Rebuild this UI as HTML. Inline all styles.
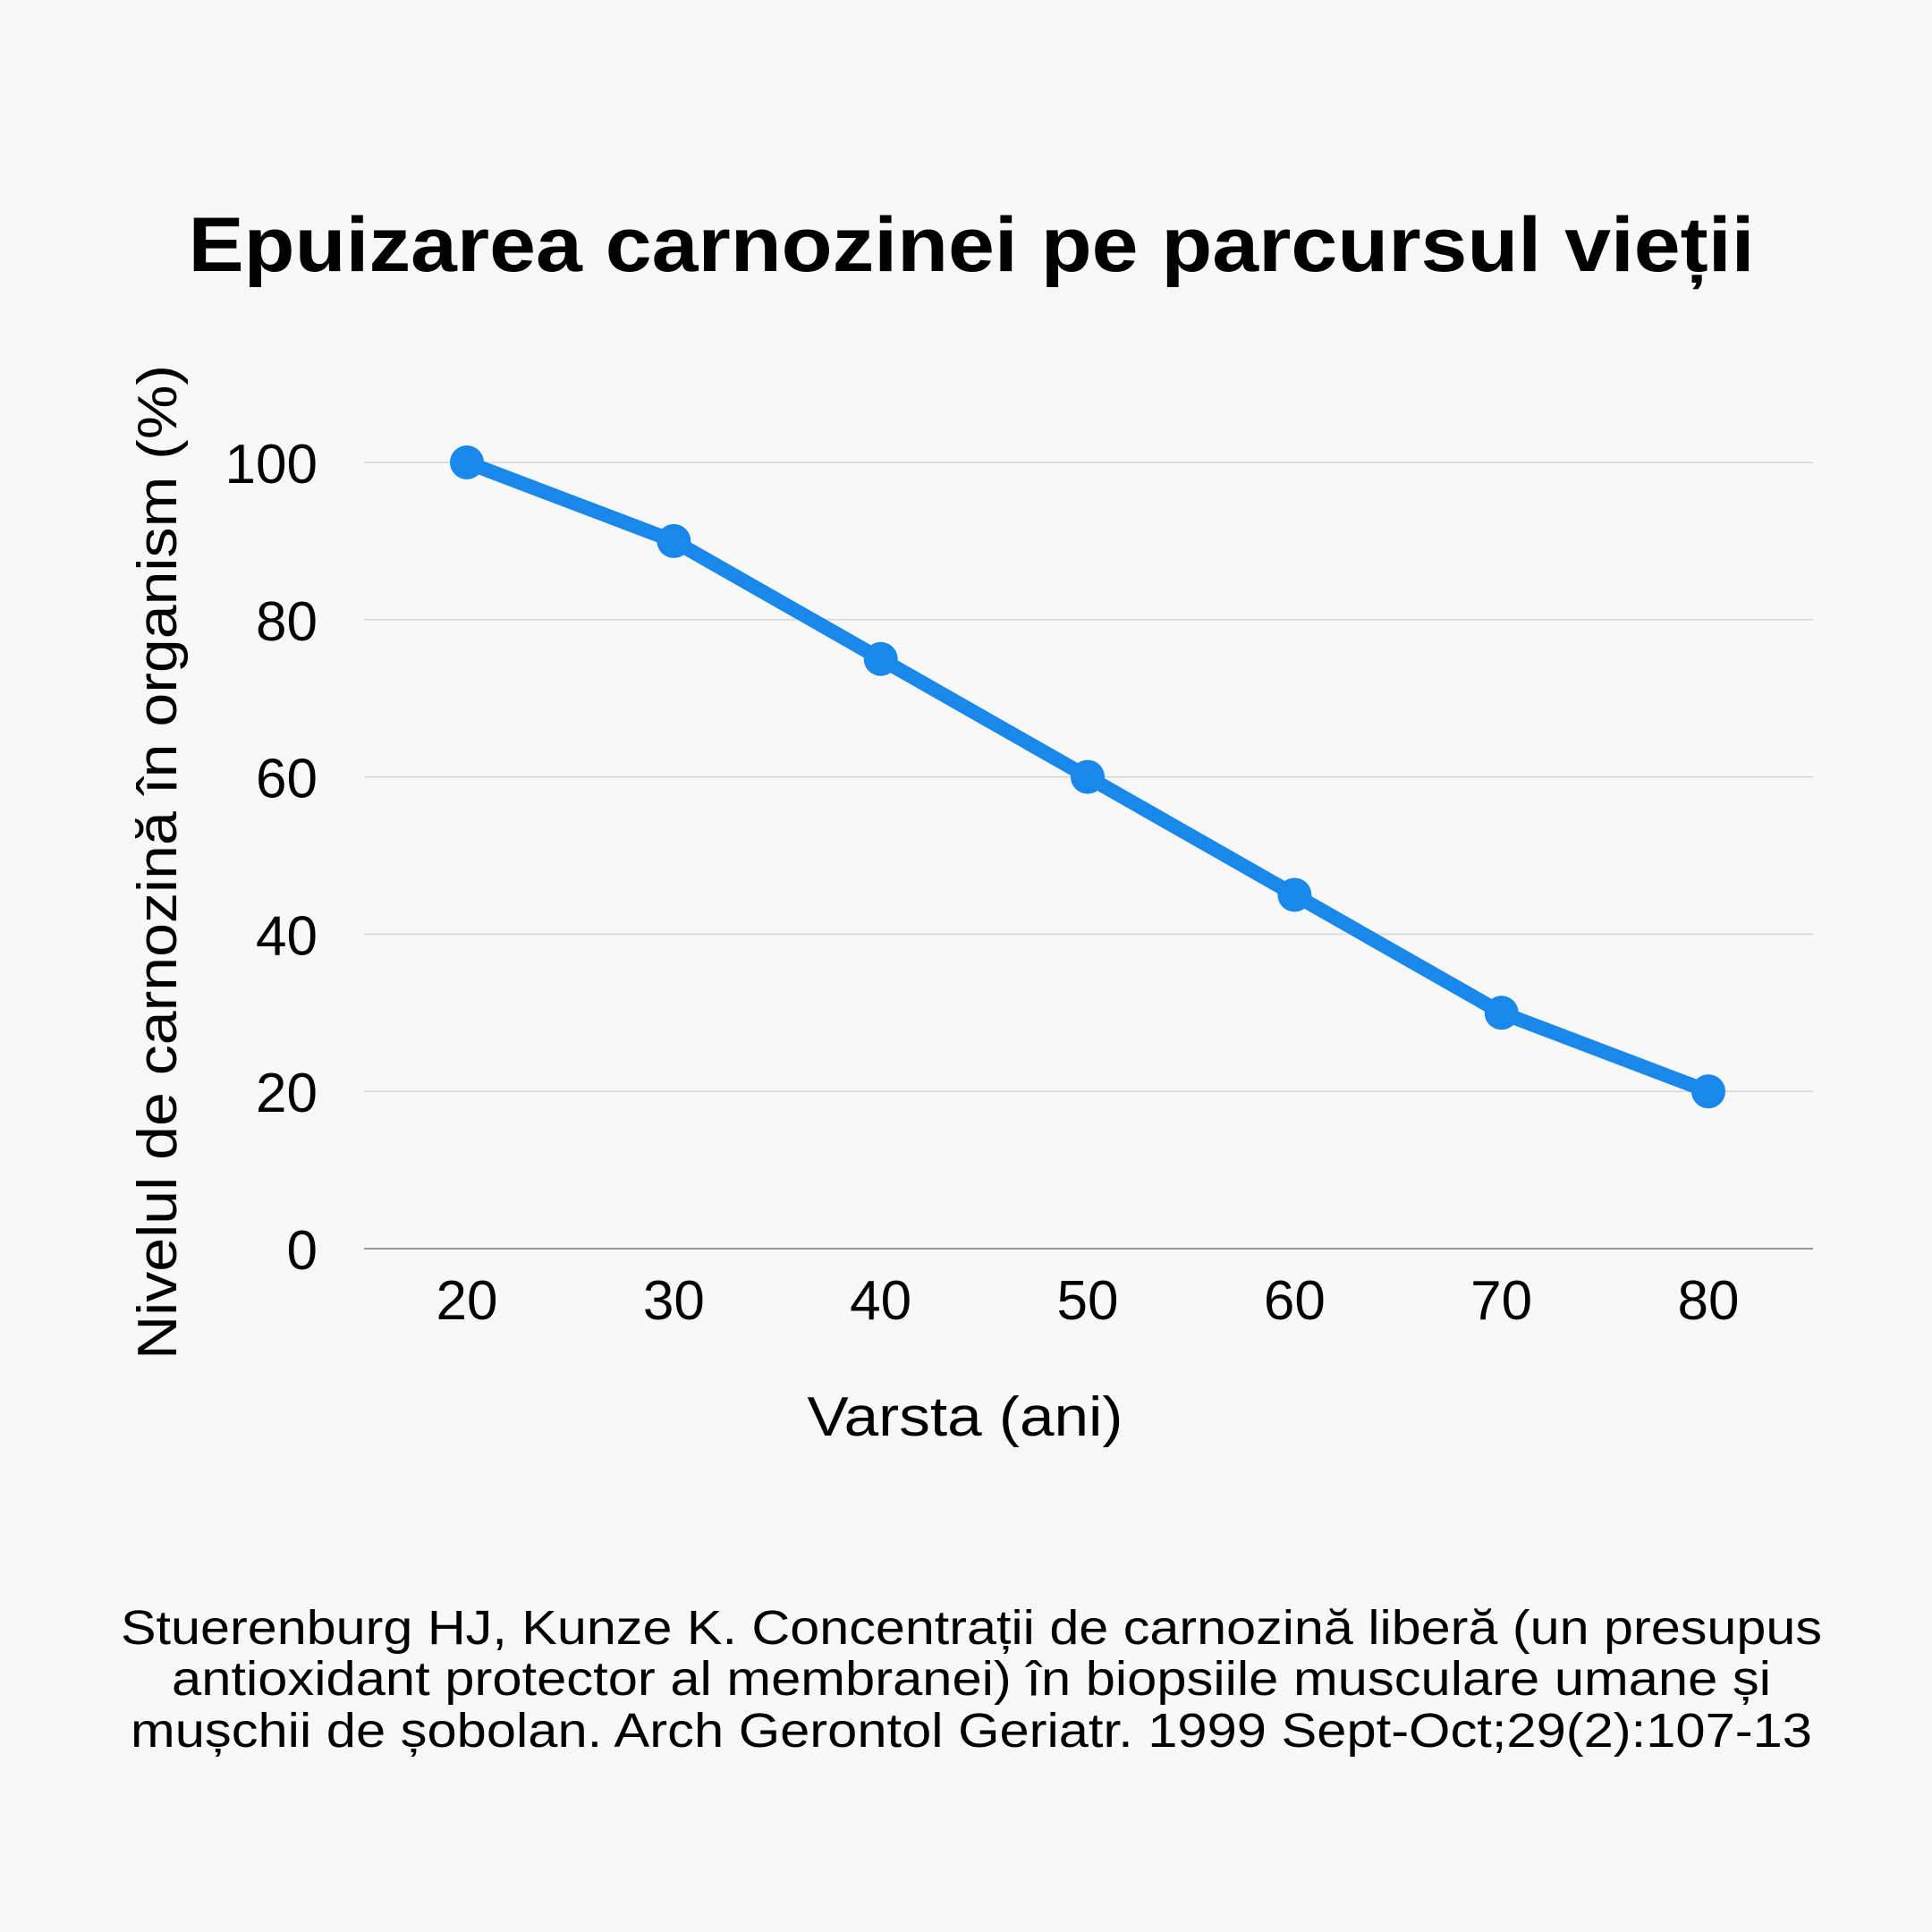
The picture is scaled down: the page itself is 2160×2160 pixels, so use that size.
<!DOCTYPE html>
<html><head><meta charset="utf-8"><style>
html,body{margin:0;padding:0;background:#f8f8f8;}
svg{display:block;font-family:"Liberation Sans",sans-serif;}
</style></head><body>
<svg id="chart" width="2160" height="2160" viewBox="0 0 2160 2160" xmlns="http://www.w3.org/2000/svg">
<rect x="0" y="0" width="2160" height="2160" fill="#f8f8f8"/>
<text x="1086" y="303" text-anchor="middle" font-size="86" font-weight="bold" fill="#000" textLength="1751" lengthAdjust="spacingAndGlyphs">Epuizarea carnozinei pe parcursul vieții</text>
<g id="grid"></g>
<g id="yticks"></g>
<g id="xticks"></g>
<g id="series"></g>
<text x="1079" y="1605" text-anchor="middle" font-size="62" fill="#000" textLength="353" lengthAdjust="spacingAndGlyphs">Varsta (ani)</text>
<text transform="translate(197,964) rotate(-90)" x="0" y="0" text-anchor="middle" font-size="62" fill="#000" textLength="1112" lengthAdjust="spacingAndGlyphs">Nivelul de carnozină în organism (%)</text>
<g font-size="54" fill="#000" text-anchor="middle">
<text x="1086" y="1838" textLength="1902" lengthAdjust="spacingAndGlyphs">Stuerenburg HJ, Kunze K. Concentrații de carnozină liberă (un presupus</text>
<text x="1086" y="1895" textLength="1788" lengthAdjust="spacingAndGlyphs">antioxidant protector al membranei) în biopsiile musculare umane și</text>
<text x="1086" y="1953" textLength="1880" lengthAdjust="spacingAndGlyphs">mușchii de șobolan. Arch Gerontol Geriatr. 1999 Sept-Oct;29(2):107-13</text>
</g>
</svg>
<script>
const categories = [20, 30, 40, 50, 60, 70, 80];
const values = [100, 90, 75, 60, 45, 30, 20];
const yTicks = [0, 20, 40, 60, 80, 100];

const NS = "http://www.w3.org/2000/svg";
const x0 = 522, x1 = 1910, yBase = 1396, yTop = 517;
function xScale(v){ return x0 + (v - categories[0]) / (categories[categories.length-1] - categories[0]) * (x1 - x0); }
function yScale(v){ return yBase - v / 100 * (yBase - yTop); }

const grid = document.getElementById('grid');
const yt = document.getElementById('yticks');
yTicks.forEach(t => {
  const l = document.createElementNS(NS, 'line');
  
  
  l.setAttribute('x1', 407); l.setAttribute('x2', 2027);
  l.setAttribute('y1', yScale(t)); l.setAttribute('y2', yScale(t));
  l.setAttribute('stroke', t === 0 ? '#999' : '#d4d4d4');
  l.setAttribute('stroke-width', t === 0 ? 2 : 1.5);
  grid.appendChild(l);
  const tx = document.createElementNS(NS, 'text');
  
  
  tx.setAttribute('x', 355); tx.setAttribute('y', yScale(t) + 23);
  tx.setAttribute('text-anchor', 'end'); tx.setAttribute('font-size', '62');
  tx.textContent = t;
  yt.appendChild(tx);
});
const xt = document.getElementById('xticks');
categories.forEach(c => {
  const tx = document.createElementNS(NS, 'text');
  
  
  tx.setAttribute('x', xScale(c)); tx.setAttribute('y', 1475);
  tx.setAttribute('text-anchor', 'middle'); tx.setAttribute('font-size', '62');
  tx.textContent = c;
  xt.appendChild(tx);
});
const s = document.getElementById('series');
const pl = document.createElementNS(NS, 'polyline');


pl.setAttribute('points', categories.map((c,i) => xScale(c) + ',' + yScale(values[i])).join(' '));
pl.setAttribute('fill', 'none'); pl.setAttribute('stroke', '#1a88eb');
pl.setAttribute('stroke-width', 16); pl.setAttribute('stroke-linejoin', 'round');
s.appendChild(pl);
categories.forEach((c,i) => {
  const p = document.createElementNS(NS, 'circle');
  
  
  p.setAttribute('cx', xScale(c)); p.setAttribute('cy', yScale(values[i]));
  p.setAttribute('r', 19); p.setAttribute('fill', '#1a88eb');
  s.appendChild(p);
});
</script>
</body></html>
